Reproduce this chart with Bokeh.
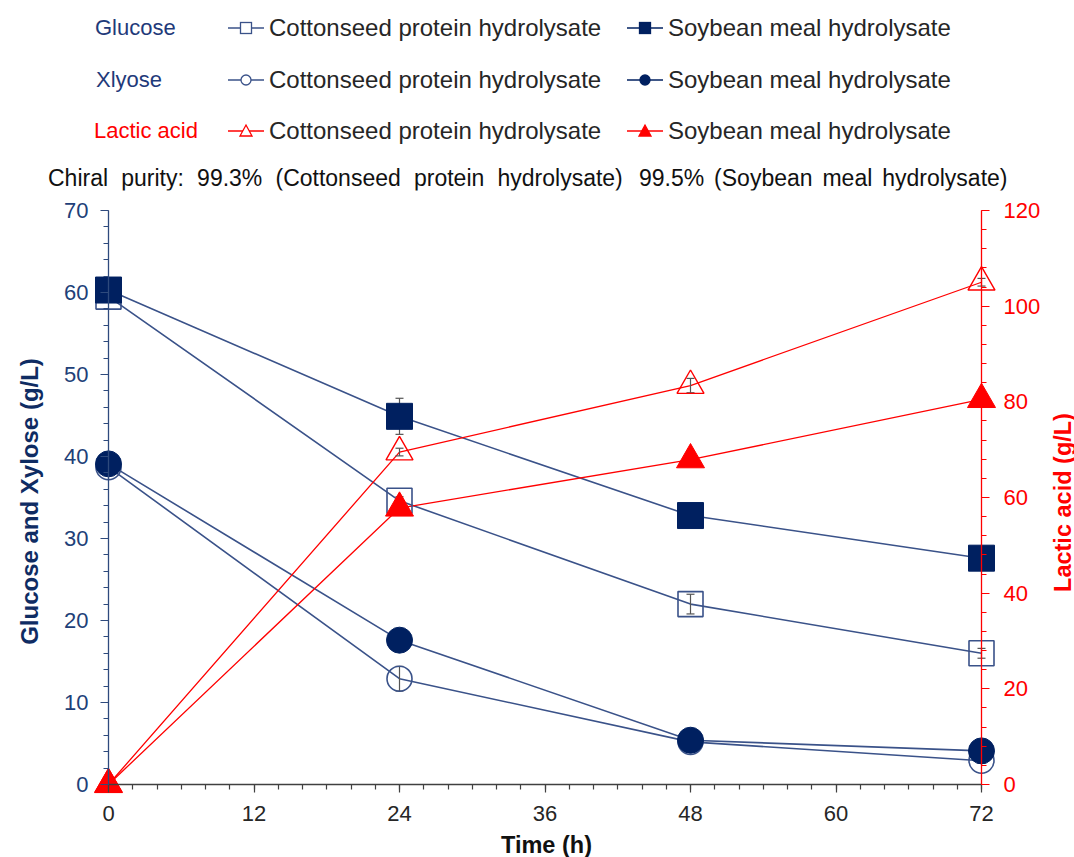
import math

from bokeh.plotting import figure
from bokeh.models import Range1d, LinearAxis, FixedTicker, Div, Label
from bokeh.layouts import column
from bokeh.embed import file_html
from bokeh.resources import INLINE

FONT = "Liberation Sans"

# ---- data (g/L) ----
time_h = [0, 24, 48, 72]

glucose_cotton = [59.5, 34.6, 22.0, 16.0]
glucose_cotton_err = [0.4, 0.5, 1.2, 0.6]
glucose_soy = [60.3, 44.9, 32.8, 27.6]
glucose_soy_err = [0.4, 2.2, 0.4, 0.4]

xylose_cotton = [38.7, 12.9, 5.2, 2.9]
xylose_cotton_err = [0.3, 1.5, 0.3, 0.3]
xylose_soy = [39.1, 17.6, 5.4, 4.1]
xylose_soy_err = [0.3, 0.4, 0.3, 0.2]

lactic_cotton = [0.0, 69.5, 83.4, 105.0]
lactic_cotton_err = [0.0, 0.8, 1.5, 0.8]
lactic_soy = [0.0, 57.8, 67.9, 80.5]
lactic_soy_err = [0.0, 0.5, 0.5, 0.5]

x_ticks = [0, 12, 24, 36, 48, 60, 72]
left_ticks = [0, 10, 20, 30, 40, 50, 60, 70]
right_ticks = [0, 20, 40, 60, 80, 100, 120]

x_title = "Time (h)"
left_title = "Glucose and Xylose (g/L)"
right_title = "Lactic acid (g/L)"

legend_groups = ["Glucose", "Xlyose", "Lactic acid"]
legend_sources = ["Cottonseed protein hydrolysate", "Soybean meal hydrolysate"]
purity_parts = ["Chiral purity: 99.3% (Cottonseed protein hydrolysate)",
                "99.5% (Soybean meal hydrolysate)"]

# ---- colours ----
NAVY = "#002060"
LINE_BLUE = "#3a5289"
AXIS_BLUE = "#2e4a7d"
TICK_BLUE = "#213f78"
TITLE_NAVY = "#0f2c63"
GROUP_BLUE = "#1f3a7a"
RED = "#ff0000"
ERR = "#555555"
DARK = "#262626"

# ---- geometry (window pixels) ----
W, H = 1074, 857
HEAD_H = 190
AX_L, AX_R, AX_T, AX_B = 108, 981, 210, 784

X_MAX, Y_MAX, Y2_MAX = 72, 70, 120
plot_w = AX_R - AX_L
plot_h = AX_B - AX_T


def x_at(px):
    return (px - AX_L) / plot_w * X_MAX


def y_at(py):
    return (AX_B - py) / plot_h * Y_MAX


def y2_at(py):
    return (AX_B - py) / plot_h * Y2_MAX


# ================= header: legend and purity note =================
def swatch(marker, line_col, fill_col, left, top):
    w, h, cx, cy = 36, 16, 18, 8
    parts = [f'<line x1="0" y1="{cy}" x2="{w}" y2="{cy}" stroke="{line_col}" stroke-width="1.5"/>']
    if marker == "square":
        parts.append(f'<rect x="{cx-5.5}" y="{cy-5.5}" width="11" height="11" fill="{fill_col}" '
                     f'stroke="{line_col}" stroke-width="1.3"/>')
    elif marker == "circle":
        parts.append(f'<circle cx="{cx}" cy="{cy}" r="5" fill="{fill_col}" stroke="{line_col}" '
                     f'stroke-width="1.3"/>')
    else:
        parts.append(f'<polygon points="{cx-6},{cy+5} {cx+6},{cy+5} {cx},{cy-6}" fill="{fill_col}" '
                     f'stroke="{line_col}" stroke-width="1.3"/>')
    return (f'<svg width="{w}" height="{h}" style="position:absolute;left:{left}px;top:{top}px;'
            f'overflow:visible">' + "".join(parts) + "</svg>")


def span(txt, x, y, size, color, extra=""):
    return (f'<span style="position:absolute;left:{x}px;top:{y}px;transform:translateY(-50%);'
            f'white-space:nowrap;font-family:\'{FONT}\';font-size:{size}px;line-height:1;'
            f'color:{color};{extra}">{txt}</span>')


row_y = [28, 80, 131]
group_x = [95, 96, 94]
group_colors = [GROUP_BLUE, GROUP_BLUE, RED]
swatch_cols = [(228, 269), (627, 668)]
swatch_line = [[LINE_BLUE, NAVY], [LINE_BLUE, NAVY], [RED, RED]]
swatch_fill = [["white", NAVY], ["white", NAVY], ["white", RED]]
swatch_marker = ["square", "circle", "triangle"]

items = []
for r, yy in enumerate(row_y):
    items.append(span(legend_groups[r], group_x[r], yy, 22, group_colors[r]))
    for c, (xs, xt) in enumerate(swatch_cols):
        items.append(swatch(swatch_marker[r], swatch_line[r][c], swatch_fill[r][c], xs, yy - 8))
        items.append(span(legend_sources[c], xt, yy, 24, DARK))
items.append(span(purity_parts[0], 48, 178, 23, "#111111", "word-spacing:6.8px;"))
items.append(span(purity_parts[1], 639, 178, 23, "#111111", "word-spacing:3.5px;"))

header = Div(text=f'<div style="position:relative;width:{W}px;height:{HEAD_H}px;">'
                  + "".join(items) + "</div>",
             width=W, height=HEAD_H, margin=0)

# ================= main chart =================
# the frame fills the whole canvas; axes are pinned to the data edges
p = figure(width=W, height=H - HEAD_H,
           x_range=Range1d(x_at(0), x_at(W)),
           y_range=Range1d(y_at(H), y_at(HEAD_H)),
           x_axis_type=None, y_axis_type=None, min_border=0,
           toolbar_location=None, output_backend="svg", margin=0)
p.outline_line_color = None
p.grid.visible = False
p.extra_y_ranges = {"lactic": Range1d(y2_at(H), y2_at(HEAD_H))}


def style_axis(ax, line_col, label_col, standoff):
    ax.axis_line_color = line_col
    ax.axis_line_width = 1.3
    ax.major_tick_line_color = line_col
    ax.minor_tick_line_color = line_col
    ax.major_tick_line_width = 1.2
    ax.minor_tick_line_width = 1.2
    ax.major_tick_in = 0
    ax.major_tick_out = 8
    ax.minor_tick_in = 0
    ax.minor_tick_out = 5
    ax.major_label_text_font = FONT
    ax.major_label_text_font_size = "22px"
    ax.major_label_text_color = label_col
    ax.major_label_standoff = standoff


xaxis = LinearAxis(fixed_location=0, bounds=(0, X_MAX),
                   ticker=FixedTicker(ticks=x_ticks, minor_ticks=list(range(0, X_MAX + 1, 2))))
style_axis(xaxis, "#404040", DARK, 13)
p.add_layout(xaxis, "below")

yaxis = LinearAxis(fixed_location=0, bounds=(0, Y_MAX),
                   ticker=FixedTicker(ticks=left_ticks, minor_ticks=list(range(0, Y_MAX + 1, 2))))
style_axis(yaxis, AXIS_BLUE, TICK_BLUE, 12)
p.add_layout(yaxis, "left")

y2axis = LinearAxis(y_range_name="lactic", fixed_location=X_MAX, bounds=(0, Y2_MAX),
                    ticker=FixedTicker(ticks=right_ticks, minor_ticks=list(range(0, Y2_MAX + 1, 4))))
style_axis(y2axis, RED, RED, 14)
p.add_layout(y2axis, "right")

# axis titles
for txt, px, py, ang, col, size in [
    (x_title, 546, 844, 0, "#111111", "23.5px"),
    (left_title, 29, 501, math.pi / 2, TITLE_NAVY, "24px"),
    (right_title, 1062, 502, math.pi / 2, RED, "23.5px"),
]:
    p.add_layout(Label(x=x_at(px), y=y_at(py), text=txt, angle=ang, text_align="center",
                       text_baseline="middle", text_font=FONT, text_font_size=size,
                       text_font_style="bold", text_color=col))


def err_bars(ys, errs, rng="default"):
    lo = [v - e for v, e in zip(ys, errs)]
    hi = [v + e for v, e in zip(ys, errs)]
    p.segment(x0=time_h, y0=lo, x1=time_h, y1=hi, line_color=ERR, line_width=1.2,
              y_range_name=rng)
    p.scatter(x=time_h + time_h, y=lo + hi, marker="dash", size=8, line_color=ERR,
              line_width=1.2, y_range_name=rng)


# connecting lines
p.line(time_h, glucose_cotton, line_color=LINE_BLUE, line_width=1.6)
p.line(time_h, glucose_soy, line_color=LINE_BLUE, line_width=1.6)
p.line(time_h, xylose_cotton, line_color=LINE_BLUE, line_width=1.6)
p.line(time_h, xylose_soy, line_color=LINE_BLUE, line_width=1.6)
p.line(time_h, lactic_cotton, line_color=RED, line_width=1.3, y_range_name="lactic")
p.line(time_h, lactic_soy, line_color=RED, line_width=1.3, y_range_name="lactic")

# error bars sit behind the filled markers
err_bars(glucose_cotton, glucose_cotton_err)
err_bars(glucose_soy, glucose_soy_err)
err_bars(xylose_cotton, xylose_cotton_err)
err_bars(xylose_soy, xylose_soy_err)

# markers
p.scatter(time_h, glucose_cotton, marker="square", size=25, fill_color=None,
          line_color=LINE_BLUE, line_width=1.6)
p.scatter(time_h, xylose_cotton, marker="circle", size=25, fill_color=None,
          line_color=LINE_BLUE, line_width=1.6)
p.scatter(time_h, glucose_soy, marker="square", size=26, fill_color=NAVY, line_color=NAVY)
p.scatter(time_h, xylose_soy, marker="circle", size=26, fill_color=NAVY, line_color=NAVY)
err_bars(lactic_cotton, lactic_cotton_err, "lactic")
p.scatter(time_h, lactic_cotton, marker="triangle", size=27, fill_color=None,
          line_color=RED, line_width=1.4, y_range_name="lactic")
p.scatter(time_h, lactic_soy, marker="triangle", size=28, fill_color=RED,
          line_color=RED, y_range_name="lactic")

layout = column(header, p, spacing=0)
open("out.html", "w").write(file_html(layout, INLINE))
